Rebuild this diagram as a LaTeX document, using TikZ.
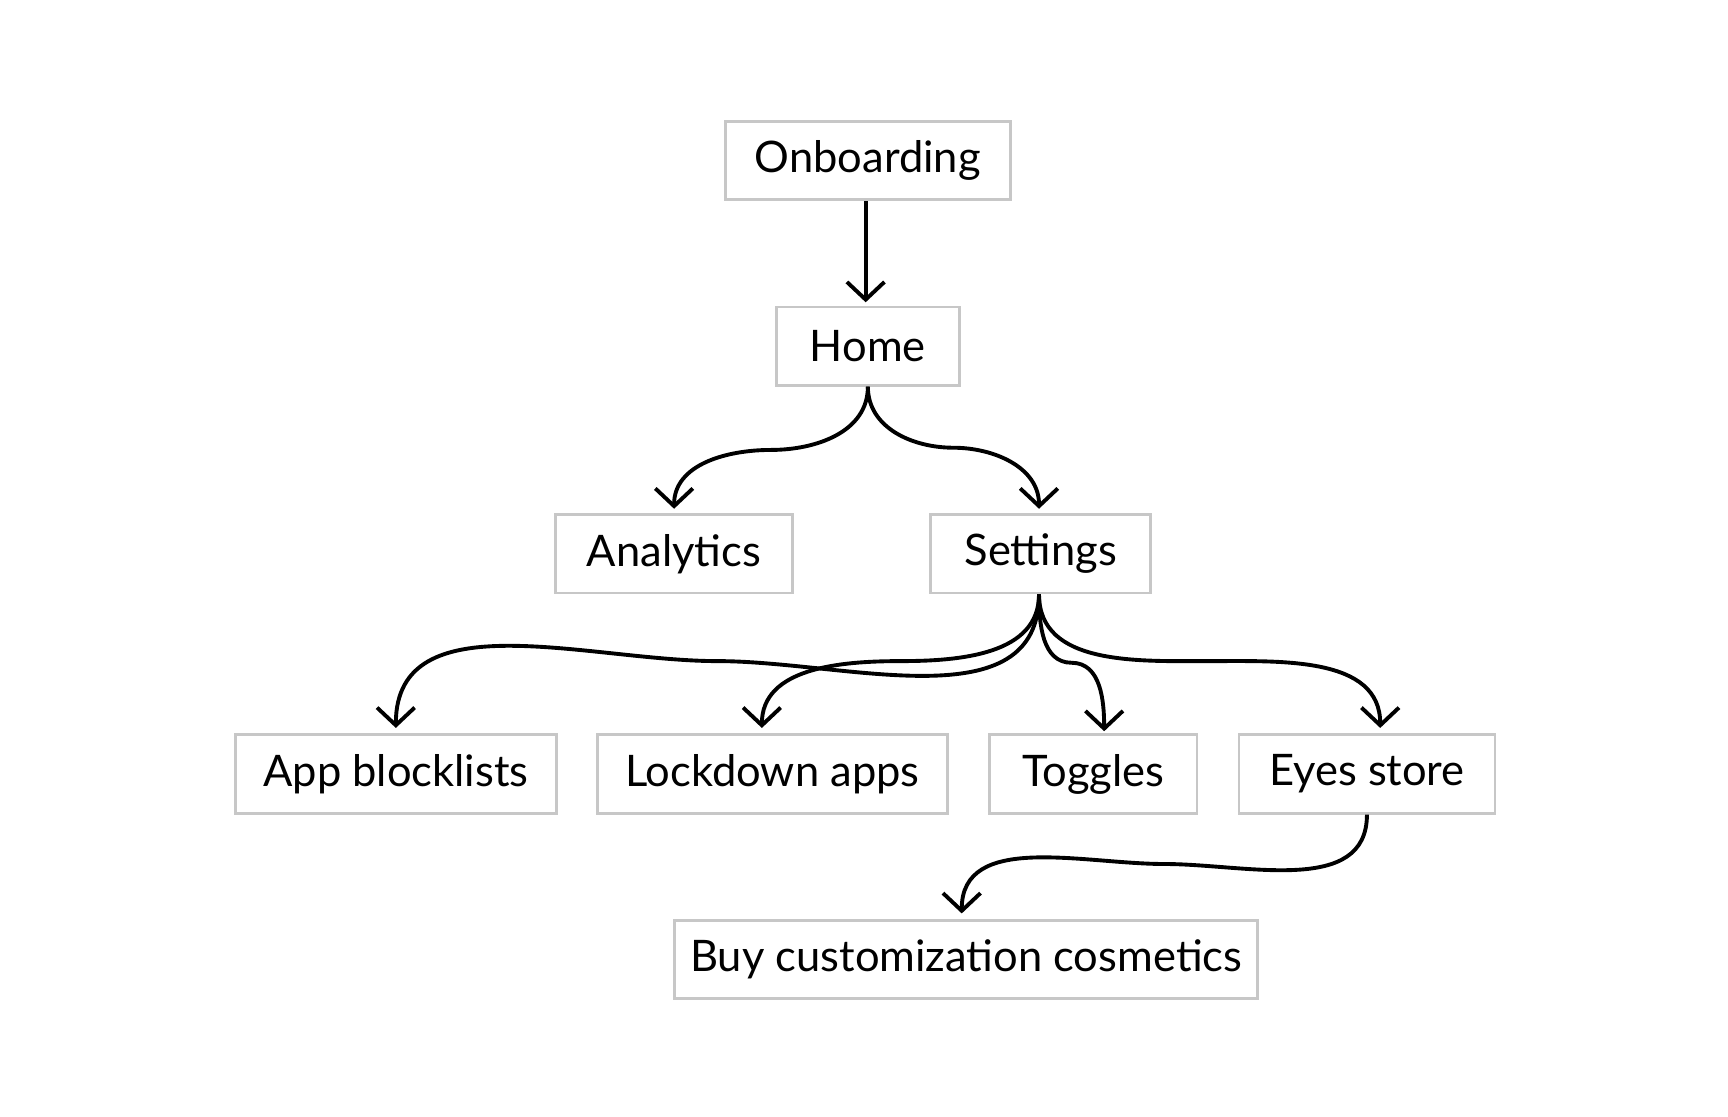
\documentclass[tikz,border=0pt]{standalone}
\usepackage{fontspec}
\setmainfont{Lato}
\usetikzlibrary{arrows.meta,calc}

\tikzset{
  box/.style={draw=black!22, line width=0.7pt, minimum height=0.71cm, font=\fontsize{11.2}{13}\selectfont},
  flow/.style={-{Straight Barb[length=1.6mm,width=3.4mm]}, line width=1pt}
}

\begin{document}
\begin{tikzpicture}
\useasboundingbox (0,0) rectangle (15.65,-10.11);

\node[box, minimum width=2.58cm] (onb) at (7.86,-1.455) {Onboarding};
\node[box, minimum width=1.66cm] (home) at (7.86,-3.135) {Home};
\node[box, minimum width=2.15cm] (ana) at (6.105,-5.015) {Analytics};
\node[box, minimum width=1.99cm] (set) at (9.425,-5.015) {Settings};
\node[box, minimum width=2.91cm] (blk) at (3.585,-7.01) {App blocklists};
\node[box, minimum width=3.17cm] (lock) at (6.995,-7.01) {Lockdown apps};
\node[box, minimum width=1.88cm] (tog) at (9.90,-7.01) {Toggles};
\node[box, minimum width=2.32cm] (eyes) at (12.38,-7.01) {Eyes store};
\node[box, minimum width=5.28cm] (buy) at (8.75,-8.69) {Buy customization cosmetics};

\coordinate (s0) at ([xshift=-0.15mm]set.south);
\coordinate (s1) at ([xshift=-0.15mm,yshift=0.4mm]set.north);
\coordinate (t1) at ([yshift=0.5mm]blk.north);
\coordinate (t2) at ([xshift=-0.95mm,yshift=0.5mm]lock.north);
\coordinate (t3) at ([xshift=1mm,yshift=0.2mm]tog.north);
\coordinate (t4) at ([xshift=1.2mm,yshift=0.5mm]eyes.north);
\coordinate (t5) at ([xshift=-0.4mm,yshift=0.5mm]buy.north);

\draw[flow] ([xshift=-0.2mm]onb.south) -- ([xshift=-0.2mm,yshift=0.3mm]home.north);
\draw[flow] (home.south) to[out=-90,in=0] ($(home.south)!.5!(ana.north)$) to[out=180,in=90] ([yshift=0.4mm]ana.north);
\draw[flow] (home.south) to[out=-90,in=180] ($(home.south)!.5!(s1)$) to[out=0,in=90] (s1);

% settings children
\draw[flow] (s0) to[out=-90,in=0] ($(s0)!.5!(t1)$) to[out=180,in=90] (t1);
\draw[flow] (s0) to[out=-90,in=0] ($(s0)!.5!(t2)$) to[out=180,in=90] (t2);
\draw[flow] (s0) to[out=-90,in=180] ($(s0)!.5!(t3)$) to[out=0,in=90] (t3);
\draw[flow] (s0) to[out=-90,in=180] ($(s0)!.5!(t4)$) to[out=0,in=90] (t4);

\draw[flow] (eyes.south) to[out=-90,in=0] ($(eyes.south)!.5!(t5)$) to[out=180,in=90] (t5);
\end{tikzpicture}
\end{document}
